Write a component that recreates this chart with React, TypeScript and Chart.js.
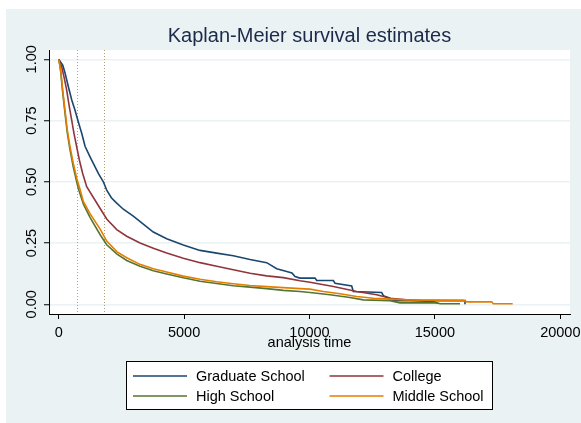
import React, { useEffect, useRef } from "react";
import { Chart, registerables } from "chart.js";

Chart.register(...registerables);

const FONT = '"Liberation Sans", Arial, Helvetica, sans-serif';

const titleText = "Kaplan-Meier survival estimates";
const xAxisTitle = "analysis time";
const seriesLabels = ["Graduate School", "College", "High School", "Middle School"];
const seriesColors = ["#1a476f", "#90353b", "#55752f", "#e37e00"];
const xTicks = [0, 5000, 10000, 15000, 20000];
const yTicks = [0, 0.25, 0.5, 0.75, 1];
const yTickLabels = ["0.00", "0.25", "0.50", "0.75", "1.00"];
const refLines = [730, 1825];
const refColors = ["#e386a3", "#b59c70"];

const gradTime = [0, 100, 160, 250, 380, 520, 650, 780, 920, 1050, 1250, 1380, 1580, 1780, 1914, 2100, 2250, 2576, 2974, 3373, 3772, 4306, 4968, 5634, 6300, 6962, 7628, 8293, 8692, 9091, 9300, 9422, 9621, 10220, 10287, 10951, 11017, 11682, 11748, 12878, 12945, 13210, 13344, 16200, 16200];
const gradSurv = [1, 0.985, 0.976, 0.945, 0.89, 0.834, 0.792, 0.745, 0.697, 0.645, 0.602, 0.575, 0.534, 0.5, 0.466, 0.435, 0.419, 0.388, 0.36, 0.327, 0.295, 0.268, 0.242, 0.22, 0.209, 0.198, 0.183, 0.17, 0.145, 0.134, 0.128, 0.113, 0.107, 0.107, 0.097, 0.097, 0.086, 0.075, 0.052, 0.048, 0.035, 0.025, 0.015, 0.015, 0];

const colTime = [0, 60, 120, 211, 318, 424, 518, 610, 717, 823, 956, 1116, 1647, 1914, 2313, 2711, 3242, 3772, 4306, 4968, 5634, 6300, 6962, 7628, 8293, 8957, 9621, 10020, 10951, 11882, 12679, 13210, 13875, 14936, 15136];
const colSurv = [1, 0.985, 0.969, 0.928, 0.874, 0.806, 0.752, 0.697, 0.643, 0.589, 0.534, 0.48, 0.392, 0.348, 0.305, 0.278, 0.25, 0.229, 0.209, 0.188, 0.17, 0.155, 0.141, 0.127, 0.116, 0.109, 0.096, 0.09, 0.073, 0.052, 0.039, 0.025, 0.018, 0.011, 0.003];

const hsTime = [0, 40, 80, 159, 251, 343, 451, 582, 717, 782, 981, 1248, 1647, 1914, 2313, 2711, 3242, 3772, 4306, 4968, 5634, 6300, 6962, 7628, 8293, 8957, 9621, 10020, 10817, 11614, 12146, 13210, 13609, 15072, 15205, 16000];
const hsSurv = [1, 0.978, 0.95, 0.865, 0.78, 0.7, 0.63, 0.56, 0.5, 0.473, 0.41, 0.355, 0.285, 0.243, 0.206, 0.179, 0.155, 0.137, 0.124, 0.108, 0.094, 0.085, 0.076, 0.07, 0.064, 0.057, 0.052, 0.048, 0.039, 0.028, 0.018, 0.015, 0.006, 0.006, 0.002, 0.002];

const msTime = [0, 40, 80, 159, 251, 343, 451, 582, 717, 849, 981, 1248, 1647, 1914, 2313, 2711, 3242, 3772, 4306, 4968, 5634, 6300, 6962, 7628, 8293, 8957, 9621, 10020, 10551, 11216, 11882, 12545, 13210, 13875, 16133, 16266, 17264, 17330, 18102];
const msSurv = [1, 0.98, 0.955, 0.874, 0.792, 0.711, 0.643, 0.575, 0.515, 0.47, 0.42, 0.37, 0.308, 0.258, 0.215, 0.19, 0.163, 0.145, 0.132, 0.115, 0.102, 0.092, 0.084, 0.077, 0.072, 0.068, 0.064, 0.062, 0.052, 0.043, 0.032, 0.025, 0.021, 0.018, 0.016, 0.01, 0.01, 0.002, 0.002];

const seriesTimes = [gradTime, colTime, hsTime, msTime];
const seriesSurv = [gradSurv, colSurv, hsSurv, msSurv];

const bgPlugin = {
  id: "stataBg",
  beforeDraw(chart: any) {
    const { ctx, chartArea } = chart;
    ctx.save();
    ctx.fillStyle = "#eaf2f3";
    ctx.fillRect(6, 9, 575, 414);
    ctx.fillStyle = "#ffffff";
    ctx.fillRect(chartArea.left, chartArea.top, chartArea.right - chartArea.left, chartArea.bottom - chartArea.top);
    ctx.restore();
  },
};

const refLinePlugin = {
  id: "refLines",
  beforeDatasetsDraw(chart: any) {
    const { ctx, chartArea, scales } = chart;
    ctx.save();
    ctx.lineWidth = 1;
    ctx.setLineDash([1, 2]);
    refLines.forEach((v, i) => {
      const x = Math.round(scales.x.getPixelForValue(v)) + 0.5;
      ctx.strokeStyle = refColors[i];
      ctx.beginPath();
      ctx.moveTo(x, chartArea.top);
      ctx.lineTo(x, chartArea.bottom);
      ctx.stroke();
    });
    ctx.restore();
  },
};

const legendPlugin = {
  id: "boxLegend",
  afterDraw(chart: any) {
    const { ctx } = chart;
    const box = { left: 126.5, top: 361.5, right: 492.5, bottom: 409.5 };
    ctx.save();
    ctx.fillStyle = "#ffffff";
    ctx.fillRect(box.left, box.top, box.right - box.left, box.bottom - box.top);
    ctx.strokeStyle = "#000000";
    ctx.lineWidth = 1;
    ctx.strokeRect(box.left, box.top, box.right - box.left, box.bottom - box.top);
    const colLineX = [133, 329.5];
    const colTextX = [196, 392.5];
    const rowY = [376, 396];
    ctx.font = `14.5px ${FONT}`;
    ctx.textBaseline = "middle";
    ctx.textAlign = "left";
    chart.data.datasets.forEach((ds: any, i: number) => {
      const c = i % 2;
      const r = Math.floor(i / 2);
      ctx.strokeStyle = ds.borderColor;
      ctx.lineWidth = 1.5;
      ctx.beginPath();
      ctx.moveTo(colLineX[c], rowY[r]);
      ctx.lineTo(colLineX[c] + 54, rowY[r]);
      ctx.stroke();
      ctx.fillStyle = "#000000";
      ctx.fillText(ds.label, colTextX[c], rowY[r] + 0.5);
    });
    ctx.restore();
  },
};

export default function App() {
  const ref = useRef<HTMLCanvasElement>(null);
  useEffect(() => {
    const canvas = ref.current!;
    const datasets = seriesLabels.map((label, i) => ({
      label,
      data: seriesTimes[i].map((t, j) => ({ x: t, y: seriesSurv[i][j] })),
      borderColor: seriesColors[i],
      backgroundColor: seriesColors[i],
      borderWidth: 1.6,
      pointRadius: 0,
      fill: false,
      tension: 0,
      order: 4 - i,
    }));
    const chart = new Chart(canvas, {
      type: "line",
      data: { datasets },
      options: {
        animation: false,
        responsive: false,
        devicePixelRatio: 1,
        layout: { padding: { left: 6, top: 9, right: 11, bottom: 68 } },
        plugins: {
          legend: { display: false },
          tooltip: { enabled: false },
          title: {
            display: true,
            fullSize: false,
            text: titleText,
            color: "#1c2a4a",
            font: { family: FONT, size: 20, weight: "normal" },
            padding: { top: 15, bottom: 2 },
          },
        },
        scales: {
          x: {
            type: "linear",
            min: -387,
            max: 20387,
            afterBuildTicks: (s: any) => {
              s.ticks = xTicks.map((v) => ({ value: v }));
            },
            afterFit: (s: any) => {
              s.height = 41;
              s.paddingLeft = 0;
              s.paddingRight = 0;
            },
            grid: { drawOnChartArea: false, drawTicks: true, tickLength: 5, tickColor: "#000", tickWidth: 1 },
            border: { display: true, color: "#000", width: 1 },
            ticks: {
              color: "#000",
              font: { family: FONT, size: 14.5 },
              padding: 5,
              maxRotation: 0,
              minRotation: 0,
              callback: (v: any) => String(v),
            },
            title: {
              display: true,
              text: xAxisTitle,
              color: "#000",
              font: { family: FONT, size: 14.5 },
              padding: { top: 0, bottom: 3 },
            },
          },
          y: {
            type: "linear",
            min: -0.0396,
            max: 1.038,
            afterBuildTicks: (s: any) => {
              s.ticks = yTicks.map((v) => ({ value: v }));
            },
            afterFit: (s: any) => {
              s.width = 43;
              s.paddingTop = 0;
              s.paddingBottom = 0;
            },
            grid: { drawOnChartArea: true, color: "#eaf2f3", lineWidth: 1.5, drawTicks: true, tickLength: 5, tickColor: "#000", tickWidth: 1 },
            border: { display: true, color: "#000", width: 1 },
            ticks: {
              color: "#000",
              font: { family: FONT, size: 14.5 },
              padding: -2,
              minRotation: 90,
              maxRotation: 90,
              crossAlign: "center",
              callback: (v: any) => {
                const idx = yTicks.indexOf(Number(v));
                return idx >= 0 ? yTickLabels[idx] : "";
              },
            },
          },
        },
      },
      plugins: [bgPlugin, refLinePlugin, legendPlugin],
    } as any);
    return () => chart.destroy();
  }, []);
  return (
    <div style={{ position: "fixed", left: 0, top: 0, width: 581, height: 423, background: "#ffffff" }}>
      <canvas ref={ref} width={581} height={423} style={{ display: "block", width: 581, height: 423 }} />
    </div>
  );
}
